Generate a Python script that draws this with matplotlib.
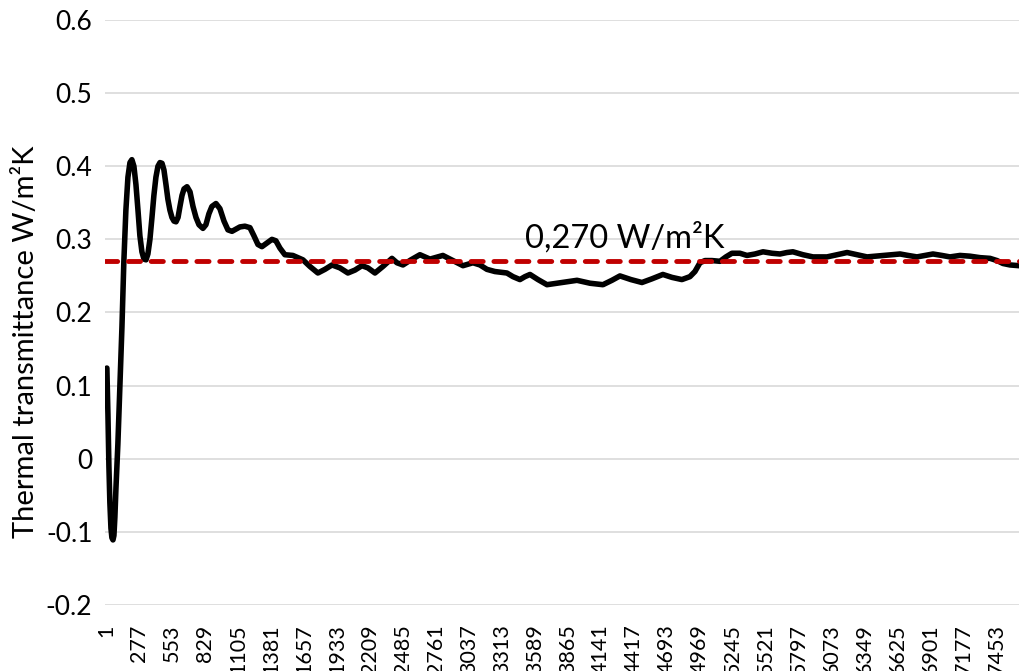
import numpy as np
import matplotlib
matplotlib.use("Agg")
import matplotlib.pyplot as plt

plt.rcParams['font.family'] = ['Lato', 'DejaVu Sans']

# time step (category index) and thermal transmittance
step = [9, 18, 26, 34, 43, 51, 60, 68, 76, 85, 101, 118, 135, 151, 168, 185,
        202, 218, 235, 252, 269, 285, 302, 319, 336, 352, 369, 386, 402, 419,
        436, 453, 470, 486, 503, 519, 536, 553, 570, 587, 604, 620, 637, 654,
        679, 704, 729, 754, 779, 812, 837, 862, 887, 921, 954, 988, 1021, 1055,
        1088, 1121, 1163, 1205, 1238, 1272, 1305, 1347, 1389, 1422, 1456, 1497,
        1564, 1648, 1706, 1773, 1832, 1891, 1957, 2024, 2083, 2141, 2191, 2250,
        2317, 2392, 2434, 2484, 2551, 2626, 2710, 2818, 2902, 2986, 3069, 3128,
        3186, 3253, 3353, 3404, 3462, 3504, 3546, 3613, 3688, 3772, 3856, 3939,
        4048, 4156, 4231, 4298, 4390, 4482, 4565, 4657, 4733, 4816, 4883, 4925,
        4967, 5009, 5067, 5134, 5184, 5234, 5301, 5360, 5427, 5494, 5569, 5636,
        5694, 5744, 5828, 5912, 6029, 6113, 6197, 6280, 6364, 6498, 6640, 6707,
        6781, 6848, 6915, 6990, 7057, 7141, 7224, 7308, 7392, 7450, 7500, 7559,
        7634]
u_value = [0.124, 0.06, -0.01, -0.06, -0.095, -0.108, -0.111, -0.105, -0.08,
           -0.04, 0.02, 0.1, 0.18, 0.27, 0.34, 0.385, 0.405, 0.409, 0.40, 0.375,
           0.34, 0.305, 0.283, 0.273, 0.272, 0.28, 0.30, 0.33, 0.36, 0.385, 0.40,
           0.405, 0.404, 0.395, 0.375, 0.355, 0.34, 0.33, 0.325, 0.324, 0.33,
           0.345, 0.36, 0.369, 0.372, 0.365, 0.345, 0.33, 0.32, 0.315, 0.32,
           0.335, 0.345, 0.349, 0.342, 0.325, 0.313, 0.311, 0.314, 0.317, 0.318,
           0.316, 0.305, 0.293, 0.290, 0.295, 0.300, 0.298, 0.288, 0.279, 0.278,
           0.272, 0.263, 0.254, 0.259, 0.265, 0.261, 0.254, 0.258, 0.264, 0.261,
           0.254, 0.263, 0.274, 0.268, 0.265, 0.272, 0.279, 0.273, 0.278, 0.271,
           0.264, 0.268, 0.265, 0.259, 0.256, 0.254, 0.249, 0.245, 0.249, 0.252,
           0.245, 0.238, 0.240, 0.242, 0.244, 0.240, 0.238, 0.244, 0.250, 0.245,
           0.241, 0.246, 0.252, 0.248, 0.245, 0.249, 0.256, 0.268, 0.271, 0.271,
           0.270, 0.276, 0.281, 0.281, 0.278, 0.280, 0.283, 0.281, 0.280, 0.282,
           0.283, 0.279, 0.276, 0.276, 0.279, 0.282, 0.279, 0.276, 0.278, 0.280,
           0.278, 0.276, 0.278, 0.280, 0.278, 0.276, 0.278, 0.277, 0.275, 0.274,
           0.271, 0.267, 0.265, 0.264]
mean_u = 0.270
tick_steps = list(range(1, 7454, 276))
y_ticks = [-0.2, -0.1, 0, 0.1, 0.2, 0.3, 0.4, 0.5, 0.6]
y_labels = ['-0.2', '-0.1', '0', '0.1', '0.2', '0.3', '0.4', '0.5', '0.6']

fig = plt.figure(figsize=(10.19, 6.71), dpi=100)
ax = fig.add_axes([0.103, 0.0984, 0.897, 0.8718])

ax.plot(step, u_value, color='black', lw=4.0, solid_capstyle='round',
        solid_joinstyle='round', zorder=2)
ax.axhline(mean_u, color='#C00000', lw=3.5, dashes=(2.5, 2.2),
           dash_capstyle='round', zorder=3)
ax.text(3504, 0.289, '0,270 W/m²K', fontsize=23.5, ha='left', va='baseline')

ax.set_xlim(-7, 7634)
ax.set_ylim(-0.2, 0.6)
ax.set_yticks(y_ticks)
ax.set_yticklabels(y_labels)
ax.set_xticks(tick_steps)
ax.set_xticklabels([str(t) for t in tick_steps], rotation=90)
ax.tick_params(axis='both', length=0)
ax.tick_params(axis='x', pad=14, labelsize=15.5)
ax.tick_params(axis='y', pad=9, labelsize=19)
ax.grid(axis='y', color='#D9D9D9', lw=1.2)
ax.set_axisbelow(True)
for s in ax.spines.values():
    s.set_visible(False)

fig.text(0.026, 0.49, 'Thermal transmittance W/m²K', rotation=90,
         fontsize=21, ha='center', va='center')

fig.savefig('out.png', dpi=100)
